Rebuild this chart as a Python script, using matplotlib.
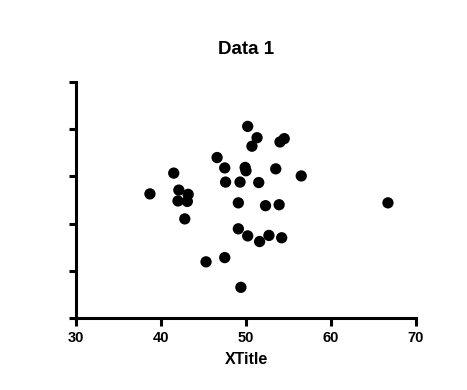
import matplotlib
matplotlib.use("Agg")
import matplotlib.pyplot as plt

# === Data ===
x_vals = [38.7, 41.5, 42.1, 43.2, 42.0, 43.1, 42.8, 45.3, 47.5, 46.6, 47.5,
          47.6, 49.3, 49.1, 49.1, 50.2, 49.4, 49.9, 50.0, 50.2, 50.7, 51.3,
          51.5, 53.5, 56.5, 52.3, 53.9, 66.7, 51.6, 52.7, 54.2, 54.0, 54.5]
y_vals = [2.63, 3.07, 2.71, 2.62, 2.48, 2.47, 2.10, 1.19, 1.28, 3.40, 3.18,
          2.88, 2.88, 2.44, 1.89, 1.74, 0.65, 3.19, 3.12, 4.06, 3.64, 3.82,
          2.87, 3.16, 3.01, 2.38, 2.40, 2.44, 1.62, 1.75, 1.70, 3.73, 3.80]
x_ticks = [30, 40, 50, 60, 70]
y_ticks = [0, 1, 2, 3, 4, 5]

plt.rcParams["font.family"] = ["Liberation Sans", "DejaVu Sans"]

fig = plt.figure(figsize=(4.67, 3.9), dpi=100)
ax = fig.add_axes([0.1627, 0.1846, 0.7281, 0.6051])

ax.scatter(x_vals, y_vals, s=66, color="black", edgecolors="none", zorder=3, clip_on=False)

ax.set_xlim(30, 70)
ax.set_ylim(0, 5)
ax.set_xticks(x_ticks)
ax.set_xticklabels([str(t) for t in x_ticks], fontsize=10.5, fontweight="bold")
ax.set_yticks(y_ticks)
ax.set_yticklabels([])

for side in ["top", "right"]:
    ax.spines[side].set_visible(False)
for side in ["left", "bottom"]:
    ax.spines[side].set_linewidth(2.2)
ax.tick_params(axis="both", direction="out", length=5.4, width=2.2, pad=4)

ax.set_xlabel("XTitle", fontsize=11.5, fontweight="bold", labelpad=5)
ax.set_title("Data 1", fontsize=13.5, fontweight="bold", pad=20)

fig.savefig("out.png", dpi=100)
